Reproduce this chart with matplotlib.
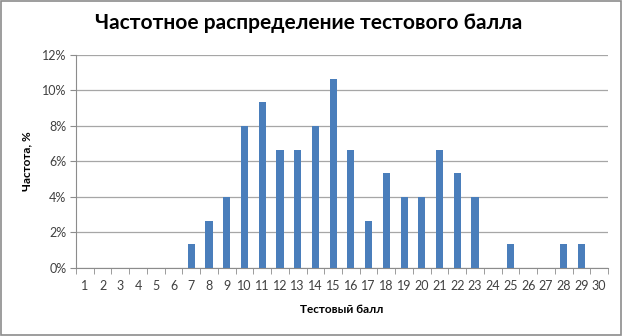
import matplotlib
matplotlib.use("Agg")
import matplotlib.pyplot as plt
from matplotlib.ticker import FuncFormatter, FixedLocator

scores = list(range(1, 31))
freq_pct = [0, 0, 0, 0, 0, 0, 1.33, 2.67, 4.0, 8.0, 9.33, 6.67, 6.67, 8.0, 10.67,
            6.67, 2.67, 5.33, 4.0, 4.0, 6.67, 5.33, 4.0, 0, 1.33, 0, 0, 1.33, 1.33, 0]
title = "Частотное распределение тестового балла"
xlabel = "Тестовый балл"
ylabel = "Частота, %"

plt.rcParams['font.family'] = ['Lato', 'DejaVu Sans']

fig = plt.figure(figsize=(6.23, 3.36), dpi=100)
fig.patch.set_facecolor('white')
border = plt.Rectangle((0.002, 0.003), 0.995, 0.994, transform=fig.transFigure,
                       fill=False, edgecolor='#8c8c8c', linewidth=1.2)
fig.patches.append(border)

ax = fig.add_axes([0.122, 0.2024, 0.854, 0.634])
ax.bar(scores, freq_pct, width=0.4, color='#4a7ebb', zorder=3)
ax.set_xlim(0.5, 30.5)
ax.set_ylim(0, 12)
ax.set_yticks(range(0, 13, 2))
ax.yaxis.set_major_formatter(FuncFormatter(lambda v, p: f"{int(v)}%"))
ax.set_xticks(scores)
ax.set_xticklabels([str(s) for s in scores])
ax.xaxis.set_minor_locator(FixedLocator([s + 0.5 for s in range(0, 31)]))
ax.tick_params(axis='x', which='major', length=0, labelsize=9, colors='#404040', pad=9)
ax.tick_params(axis='x', which='minor', length=4, color='#8c8c8c')
ax.tick_params(axis='y', length=4, color='#8c8c8c', labelsize=9, labelcolor='#404040', pad=3)
ax.grid(axis='y', color='#a6a6a6', linewidth=0.9, zorder=0)
for s in ['top', 'right']:
    ax.spines[s].set_visible(False)
ax.spines['left'].set_color('#8c8c8c')
ax.spines['bottom'].set_color('#8c8c8c')

ax.set_xlabel(xlabel, fontsize=8.5, fontweight='bold', labelpad=8)
ax.set_ylabel(ylabel, fontsize=8.5, fontweight='bold', labelpad=7)
fig.text(0.496, 0.933, title, ha='center', va='center', fontsize=15, fontweight='bold')

fig.savefig("out.png", dpi=100)
